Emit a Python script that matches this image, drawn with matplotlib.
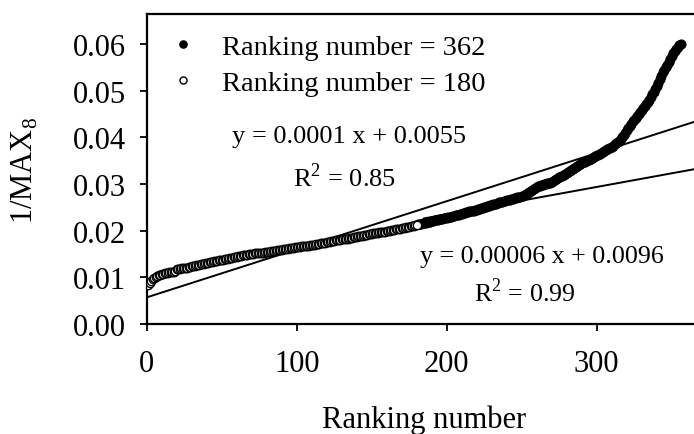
import matplotlib
matplotlib.use("Agg")
import matplotlib.pyplot as plt
import numpy as np

plt.rcParams['font.family'] = ['Liberation Serif', 'DejaVu Serif']
plt.rcParams['mathtext.fontset'] = 'custom'
plt.rcParams['mathtext.rm'] = 'Liberation Serif'

# 1/MAX8 for ranking numbers 1..180 (open circles)
rank_180 = list(range(1, 181))
inv_max8_180 = [
    0.0084, 0.0088, 0.0092, 0.0096, 0.0099, 0.0101, 0.0103, 0.0105, 0.0106, 0.0107,
    0.0108, 0.0109, 0.0110, 0.0110, 0.0111, 0.0111, 0.0112, 0.0112, 0.0113, 0.0117,
    0.0118, 0.0118, 0.0119, 0.0119, 0.0120, 0.0121, 0.0121, 0.0122, 0.0123, 0.0124,
    0.0124, 0.0125, 0.0126, 0.0126, 0.0127, 0.0128, 0.0128, 0.0129, 0.0130, 0.0131,
    0.0131, 0.0132, 0.0133, 0.0133, 0.0134, 0.0135, 0.0135, 0.0136, 0.0137, 0.0138,
    0.0138, 0.0139, 0.0139, 0.0140, 0.0141, 0.0141, 0.0142, 0.0143, 0.0143, 0.0144,
    0.0145, 0.0146, 0.0146, 0.0147, 0.0147, 0.0148, 0.0148, 0.0149, 0.0149, 0.0150,
    0.0150, 0.0151, 0.0151, 0.0151, 0.0152, 0.0152, 0.0153, 0.0153, 0.0154, 0.0154,
    0.0155, 0.0155, 0.0156, 0.0156, 0.0157, 0.0157, 0.0158, 0.0158, 0.0159, 0.0159,
    0.0160, 0.0160, 0.0161, 0.0161, 0.0162, 0.0162, 0.0163, 0.0163, 0.0164, 0.0164,
    0.0165, 0.0165, 0.0166, 0.0166, 0.0167, 0.0167, 0.0168, 0.0168, 0.0169, 0.0169,
    0.0170, 0.0170, 0.0171, 0.0171, 0.0172, 0.0173, 0.0173, 0.0174, 0.0174, 0.0175,
    0.0176, 0.0176, 0.0177, 0.0178, 0.0178, 0.0179, 0.0179, 0.0180, 0.0180, 0.0181,
    0.0182, 0.0182, 0.0183, 0.0183, 0.0184, 0.0185, 0.0185, 0.0186, 0.0186, 0.0187,
    0.0188, 0.0188, 0.0189, 0.0189, 0.0190, 0.0191, 0.0191, 0.0192, 0.0192, 0.0193,
    0.0194, 0.0194, 0.0195, 0.0195, 0.0196, 0.0197, 0.0197, 0.0198, 0.0198, 0.0199,
    0.0200, 0.0200, 0.0201, 0.0201, 0.0202, 0.0203, 0.0203, 0.0204, 0.0204, 0.0205,
    0.0206, 0.0206, 0.0207, 0.0207, 0.0208, 0.0209, 0.0209, 0.0210, 0.0211, 0.0212,
]

# 1/MAX8 for the remaining ranking numbers (filled circles)
rank_362 = list(range(181, 357))
inv_max8_362 = [
    0.0214, 0.0215, 0.0215, 0.0216, 0.0217, 0.0217, 0.0218, 0.0219, 0.0219, 0.0220,
    0.0221, 0.0222, 0.0222, 0.0223, 0.0224, 0.0225, 0.0225, 0.0226, 0.0227, 0.0228,
    0.0229, 0.0229, 0.0230, 0.0231, 0.0232, 0.0233, 0.0233, 0.0234, 0.0235, 0.0236,
    0.0237, 0.0238, 0.0239, 0.0240, 0.0241, 0.0242, 0.0242, 0.0243, 0.0244, 0.0245,
    0.0246, 0.0247, 0.0248, 0.0249, 0.0250, 0.0251, 0.0252, 0.0253, 0.0254, 0.0255,
    0.0256, 0.0257, 0.0258, 0.0259, 0.0261, 0.0262, 0.0262, 0.0263, 0.0264, 0.0265,
    0.0266, 0.0266, 0.0267, 0.0268, 0.0269, 0.0270, 0.0271, 0.0272, 0.0273, 0.0274,
    0.0275, 0.0277, 0.0279, 0.0281, 0.0283, 0.0285, 0.0287, 0.0289, 0.0291, 0.0293,
    0.0295, 0.0296, 0.0297, 0.0298, 0.0299, 0.0300, 0.0301, 0.0302, 0.0303, 0.0305,
    0.0306, 0.0308, 0.0310, 0.0312, 0.0314, 0.0316, 0.0318, 0.0320, 0.0322, 0.0324,
    0.0326, 0.0328, 0.0330, 0.0333, 0.0335, 0.0337, 0.0339, 0.0341, 0.0343, 0.0345,
    0.0346, 0.0348, 0.0349, 0.0351, 0.0352, 0.0354, 0.0355, 0.0357, 0.0359, 0.0361,
    0.0363, 0.0364, 0.0366, 0.0368, 0.0370, 0.0372, 0.0374, 0.0376, 0.0378, 0.0380,
    0.0382, 0.0385, 0.0387, 0.0390, 0.0393, 0.0397, 0.0401, 0.0405, 0.0410, 0.0415,
    0.0420, 0.0425, 0.0429, 0.0434, 0.0438, 0.0442, 0.0446, 0.0450, 0.0454, 0.0458,
    0.0462, 0.0466, 0.0471, 0.0475, 0.0480, 0.0486, 0.0492, 0.0498, 0.0504, 0.0510,
    0.0517, 0.0524, 0.0531, 0.0539, 0.0544, 0.0550, 0.0555, 0.0562, 0.0568, 0.0575,
    0.0580, 0.0585, 0.0590, 0.0594, 0.0598, 0.0600,
]

# trend lines as drawn (slope, intercept, x range)
fit_all = (0.000103, 0.0057, 0, 365)
fit_180 = (0.0000585, 0.0118, 185, 365)

eq_all = ["y = 0.0001 x + 0.0055", "R$^2$ = 0.85"]
eq_180 = ["y = 0.00006 x + 0.0096", "R$^2$ = 0.99"]

fig = plt.figure(figsize=(6.94, 4.35), dpi=100)
ax = fig.add_axes([0.2114, 0.2529, 0.7886, 0.7126])

for slope, icpt, x0, x1 in (fit_all, fit_180):
    xs = np.array([x0, x1])
    ax.plot(xs, slope * xs + icpt, color='black', lw=1.4, zorder=1)

ax.plot(rank_362, inv_max8_362, 'o', color='black', ms=7.3, mew=0,
        zorder=2, label='Ranking number = 362')
ax.plot(rank_180, inv_max8_180, 'o', mfc='white', mec='black', ms=6.0, mew=1.0,
        zorder=3, label='Ranking number = 180')

ax.set_xlim(0, 364.9)
ax.set_ylim(0, 0.0664)
ax.set_xticks([0, 100, 200, 300])
ax.set_yticks(np.arange(0, 0.061, 0.01))
ax.set_yticklabels(['%.2f' % v for v in np.arange(0, 0.061, 0.01)])
ax.tick_params(direction='out', length=5, width=1.3, labelsize=22)
ax.tick_params(axis='y', pad=10)
ax.tick_params(axis='x', pad=13)
for s in ['left', 'bottom', 'top']:
    ax.spines[s].set_linewidth(1.6)
ax.spines['right'].set_visible(False)

ax.set_xlabel('Ranking number', fontsize=22)
ax.set_ylabel('1/MAX$_8$', fontsize=22)
ax.xaxis.set_label_coords(0.506, -0.26)
ax.yaxis.set_label_coords(-0.195, 0.5)

leg = ax.legend(loc='upper left', bbox_to_anchor=(0.0073, 0.9935), frameon=False,
                fontsize=20.5, handlelength=1.0, handletextpad=0.84,
                labelspacing=0.32, borderaxespad=0.35, borderpad=0.3,
                markerscale=0.85)

ax.text(0.3696, 0.606, eq_all[0], transform=ax.transAxes, fontsize=19,
        ha='center', va='center')
ax.text(0.3623, 0.474, eq_all[1], transform=ax.transAxes, fontsize=19,
        ha='center', va='center')
ax.text(0.7223, 0.219, eq_180[0], transform=ax.transAxes, fontsize=18.7,
        ha='center', va='center')
ax.text(0.691, 0.103, eq_180[1], transform=ax.transAxes, fontsize=18.7,
        ha='center', va='center')

fig.savefig('out.png', dpi=100)
